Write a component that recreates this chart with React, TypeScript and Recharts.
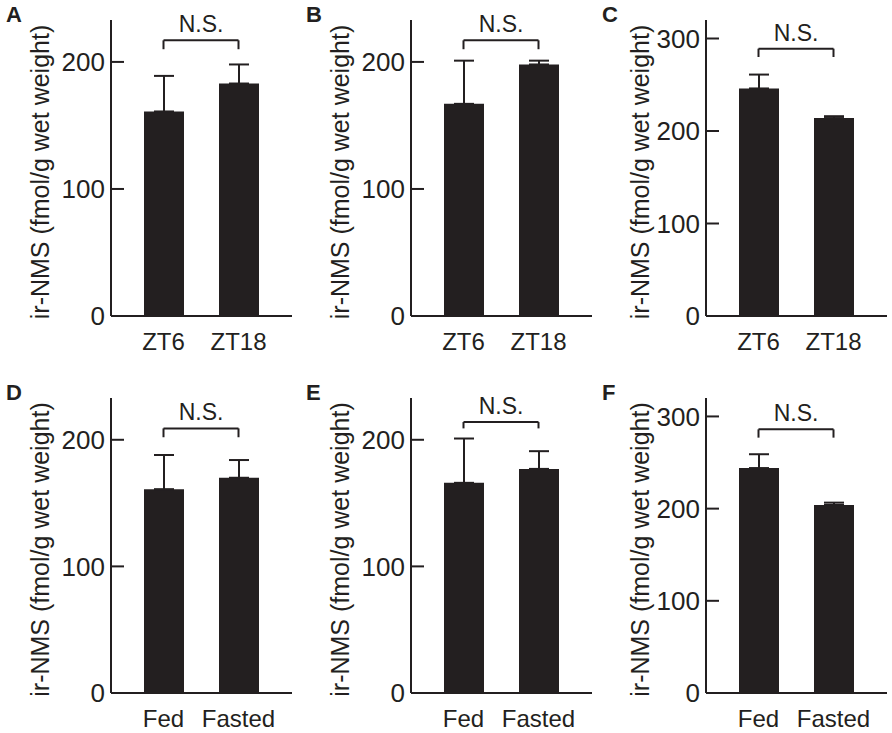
import React from 'react'
import { BarChart, Bar, XAxis, YAxis, ErrorBar, ReferenceLine } from 'recharts'

// values (mean, upper error)
const ztGroups = ['ZT6', 'ZT18']
const feedGroups = ['Fed', 'Fasted']

const panelAMean = [161, 183]
const panelAErr = [28, 15]
const panelBMean = [167, 198]
const panelBErr = [34, 3]
const panelCMean = [246, 214]
const panelCErr = [15, 2]
const panelDMean = [161, 170]
const panelDErr = [27, 14]
const panelEMean = [166, 177]
const panelEErr = [35, 14]
const panelFMean = [244, 204]
const panelFErr = [15, 2.5]

const ticksLow = [0, 100, 200]
const ticksHigh = [0, 100, 200, 300]

const INK = '#231f20'
const FONT = '"Liberation Sans", Arial, Helvetica, sans-serif'

const makeRows = (groups: string[], mean: number[], err: number[]) =>
    groups.map((g, i) => ({ group: g, value: mean[i], err: [0, err[i]] }))

const YTick = (props: any) => {
    const { x, y, payload } = props
    return (
        <g>
            <line x1={x + 6} x2={x + 19} y1={y} y2={y} stroke={INK} strokeWidth={2} />
            <text x={x} y={y} dy="0.355em" textAnchor="end" fill={INK} fontSize={26} fontFamily={FONT}>
                {payload.value}
            </text>
        </g>
    )
}

// the y title sits at a fixed distance from the panel's left edge
const YLabel = (props: any) => {
    const { viewBox } = props
    const cx = viewBox.x + 49
    const cy = viewBox.y + viewBox.height / 2 + 4
    return (
        <text x={cx} y={cy} transform={`rotate(-90, ${cx}, ${cy})`} textAnchor="middle"
            fill={INK} fontSize={25} fontFamily={FONT}>
            ir-NMS (fmol/g wet weight)
        </text>
    )
}

type PanelProps = {
    letter: string
    left: number
    top: number
    width: number
    height: number
    axisX: number
    margin: { top: number, right: number, bottom: number }
    groups: string[]
    mean: number[]
    err: number[]
    yMax: number
    ticks: number[]
    bracket: [number, number]
}

function Panel(p: PanelProps) {
    const data = makeRows(p.groups, p.mean, p.err)
    const [g1, g2] = p.groups
    const [hi, lo] = p.bracket
    return (
        <div style={{ position: 'absolute', left: p.left, top: p.top, width: p.width, height: p.height }}>
            <BarChart width={p.width} height={p.height} data={data}
                margin={{ top: p.margin.top, right: p.margin.right, bottom: p.margin.bottom, left: 0 }}
                barSize={40}>
                <XAxis
                    dataKey="group"
                    height={30}
                    axisLine={{ stroke: INK, strokeWidth: 2 }}
                    tickLine={false}
                    tickSize={0}
                    tickMargin={17}
                    padding={{ left: 15, right: 16 }}
                    tick={{ fill: INK, fontSize: 24, fontFamily: FONT }}
                    interval={0}
                />
                <YAxis
                    width={p.axisX}
                    domain={[0, p.yMax]}
                    ticks={p.ticks}
                    allowDataOverflow
                    axisLine={{ stroke: INK, strokeWidth: 2 }}
                    tickLine={false}
                    tickSize={0}
                    tickMargin={6}
                    tick={<YTick />}
                    label={<YLabel />}
                />
                <Bar dataKey="value" fill={INK} isAnimationActive={false}>
                    <ErrorBar dataKey="err" width={10} stroke={INK} strokeWidth={2} direction="y" />
                </Bar>
                <ReferenceLine segment={[{ x: g1, y: hi }, { x: g2, y: hi }]} stroke={INK} strokeWidth={2}
                    label={{ value: 'N.S.', position: 'top', offset: 8, fill: INK, fontSize: 23, fontFamily: FONT }} />
                <ReferenceLine segment={[{ x: g1, y: hi }, { x: g1, y: lo }]} stroke={INK} strokeWidth={2} />
                <ReferenceLine segment={[{ x: g2, y: hi }, { x: g2, y: lo }]} stroke={INK} strokeWidth={2} />
            </BarChart>
            <div style={{ position: 'absolute', left: p.letter === 'C' || p.letter === 'F' ? 2 : 6, top: p.top === 0 ? 4 : 12,
                fontFamily: FONT, fontWeight: 'bold', fontSize: 22, lineHeight: 1, color: INK }}>
                {p.letter}
            </div>
        </div>
    )
}

export default function App() {
    // bottom margins leave room for the 30px x-axis band
    const row1 = { top: 20, right: 8, bottom: 14 }
    const row2 = { top: 28, right: 8, bottom: 10 }
    return (
        <div style={{ position: 'absolute', left: 0, top: 0, width: 892, height: 733, background: '#fff', overflow: 'hidden' }}>
            <Panel letter="A" left={0} top={0} width={300} height={360} axisX={111} margin={row1}
                groups={ztGroups} mean={panelAMean} err={panelAErr} yMax={233} ticks={ticksLow} bracket={[217, 210]} />
            <Panel letter="B" left={300} top={0} width={300} height={360} axisX={111} margin={row1}
                groups={ztGroups} mean={panelBMean} err={panelBErr} yMax={233} ticks={ticksLow} bracket={[217, 210]} />
            <Panel letter="C" left={600} top={0} width={292} height={360} axisX={106} margin={{ ...row1, right: 5 }}
                groups={ztGroups} mean={panelCMean} err={panelCErr} yMax={320} ticks={ticksHigh} bracket={[289, 280]} />
            <Panel letter="D" left={0} top={370} width={300} height={363} axisX={111} margin={row2}
                groups={feedGroups} mean={panelDMean} err={panelDErr} yMax={233} ticks={ticksLow} bracket={[209, 202]} />
            <Panel letter="E" left={300} top={370} width={300} height={363} axisX={111} margin={row2}
                groups={feedGroups} mean={panelEMean} err={panelEErr} yMax={233} ticks={ticksLow} bracket={[214, 209]} />
            <Panel letter="F" left={600} top={370} width={292} height={363} axisX={106} margin={{ ...row2, right: 5 }}
                groups={feedGroups} mean={panelFMean} err={panelFErr} yMax={320} ticks={ticksHigh} bracket={[286, 277]} />
        </div>
    )
}
